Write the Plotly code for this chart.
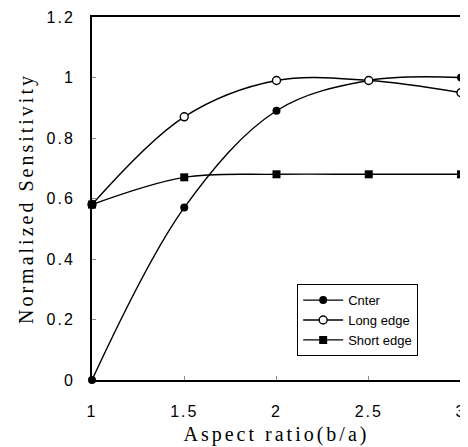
import plotly.graph_objects as go

aspect_ratio = [1, 1.5, 2, 2.5, 3]
center = [0.0, 0.57, 0.89, 0.99, 1.0]
long_edge = [0.58, 0.87, 0.99, 0.99, 0.95]
short_edge = [0.58, 0.67, 0.68, 0.68, 0.68]
x_ticks = [1, 1.5, 2, 2.5, 3]
x_ticktext = ["1", "1.5", "2", "2.5", "3"]
y_ticks = [0, 0.2, 0.4, 0.6, 0.8, 1, 1.2]
y_ticktext = ["0", "0.2", "0.4", "0.6", "0.8", "1", "1.2"]


def spaced(t, px):
    return f'<span style="letter-spacing:{px}px">{t}</span>'


fig = go.Figure()
common = dict(mode="lines+markers", line=dict(color="black", width=1.4, shape="spline", smoothing=1.0), cliponaxis=False)
fig.add_trace(go.Scatter(x=aspect_ratio, y=center, name="Cnter",
                         marker=dict(symbol="circle", size=8, color="black"), **common))
fig.add_trace(go.Scatter(x=aspect_ratio, y=long_edge, name="Long edge",
                         marker=dict(symbol="circle", size=8, color="white", line=dict(color="black", width=1.4)), **common))
fig.add_trace(go.Scatter(x=aspect_ratio, y=short_edge, name="Short edge",
                         marker=dict(symbol="square", size=8, color="black"), **common))

fig.update_layout(
    width=460, height=439,
    margin=dict(l=84, r=7, t=9, b=67, autoexpand=False),
    paper_bgcolor="white", plot_bgcolor="white",
    showlegend=True,
    legend=dict(x=0.556, y=0.264, xanchor="left", yanchor="top",
                bgcolor="white", bordercolor="black", borderwidth=1,
                font=dict(family="Liberation Sans", size=13, color="black"),
                tracegroupgap=0, itemwidth=40),
    xaxis=dict(range=[1, 3], tickvals=x_ticks, ticktext=[spaced(t, 2) for t in x_ticktext],
               showgrid=False, zeroline=False, showline=True, linecolor="black", linewidth=2,
               mirror=True, ticks="inside", ticklen=4, tickcolor="#888",
               ticklabelstandoff=16, automargin=False,
               tickfont=dict(family="Liberation Sans", size=16, color="black"),
               title=dict(text=spaced("Aspect ratio(b/a)", 3), font=dict(family="Liberation Serif", size=20, color="black"), standoff=8)),
    yaxis=dict(range=[0, 1.2], tickvals=y_ticks, ticktext=[spaced(t, 2) for t in y_ticktext],
               showgrid=False, zeroline=False, showline=True, linecolor="black", linewidth=2,
               mirror=True, ticks="inside", ticklen=4, tickcolor="#888",
               ticklabelstandoff=12, automargin=False,
               tickfont=dict(family="Liberation Sans", size=16, color="black"),
               title=dict(text=spaced("Normalized Sensitivity", 3), font=dict(family="Liberation Serif", size=20, color="black"), standoff=8)),
)
fig.write_html("out.html")
